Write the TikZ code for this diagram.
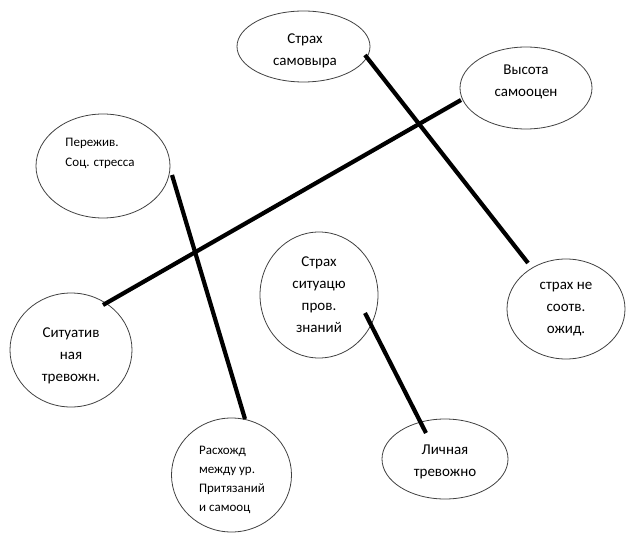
\documentclass[tikz,border=0pt]{standalone}
\usepackage{fontspec}
\setmainfont{Carlito}
\usetikzlibrary{shapes.geometric,calc}
\begin{document}
\begin{tikzpicture}[x=1pt,y=-1pt,
  oval/.style={ellipse, draw=black!75, line width=0.8pt, inner sep=0pt},
  lbl/.style={align=center, font=\fontsize{15}{22}\selectfont, inner sep=0pt},
  lbll/.style={align=left, font=\fontsize{13}{20}\selectfont, inner sep=0pt},
  link/.style={line width=4.2pt, line cap=butt}]
\useasboundingbox (0,0) rectangle (628,534);
% ellipses
\node[oval, minimum width=133pt, minimum height=71pt] (n1) at (303.5,46.5) {};
\node[oval, minimum width=132pt, minimum height=82pt] (n2) at (526,88) {};
\node[oval, minimum width=134pt, minimum height=104pt] (n3) at (103,166) {};
\node[oval, minimum width=122pt, minimum height=114pt] (n4) at (71,350) {};
\node[oval, minimum width=118pt, minimum height=126pt] (n5) at (319,295) {};
\node[oval, minimum width=118pt, minimum height=100pt] (n6) at (566,309) {};
\node[oval, minimum width=120pt, minimum height=114pt] (n7) at (231.5,475) {};
\node[oval, minimum width=126pt, minimum height=80pt] (n8) at (445,459) {};
% texts
\node[lbl] (t1) at (305,50.5) {Страх\\самовыра};
\node[lbl] (t2) at (526,82) {Высота\\самооцен};
\node[lbll] (t3) at (100,153) {Пережив.\\Соц. стресса};
\node[lbl] (t4) at (71,356) {Ситуатив\\ная\\тревожн.};
\node[lbl] (t5) at (319,295) {Страх\\ситуацю\\пров.\\знаний};
\node[lbl] (t6) at (566,309) {страх не\\соотв.\\ожид.};
\node[lbll, font=\fontsize{13}{19}\selectfont] (t7) at (232,480) {Расхожд\\между ур.\\Притязаний\\и самооц};
\node[lbl] (t8) at (445,462) {Личная\\тревожно};
% connectors
\draw[link] ($(n1)+(61.5,8.5)$) -- ($(n6)+(-38,-46)$);
\draw[link] ($(n2)+(-65,12)$) -- ($(n4)+(32,-45)$);
\draw[link] ($(n3)+(69,9)$) -- ($(n7)+(13.5,-56)$);
\draw[link] ($(n5)+(46,18)$) -- ($(n8)+(-19,-26)$);
\end{tikzpicture}
\end{document}
